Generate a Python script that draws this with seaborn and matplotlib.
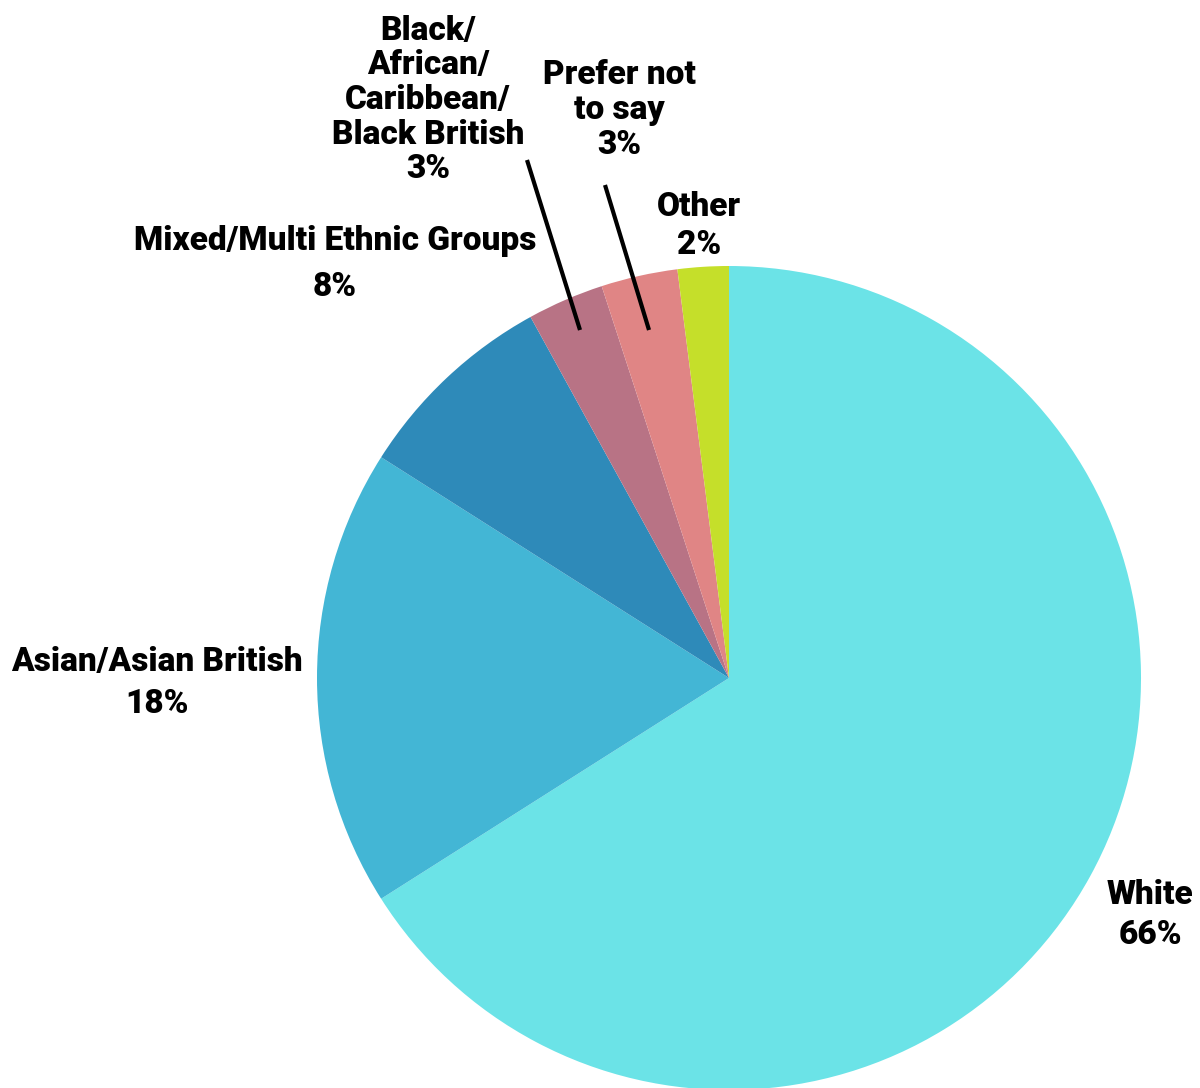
import matplotlib
matplotlib.use("Agg")
import matplotlib.pyplot as plt
import seaborn as sns

# Ethnicity breakdown (percent)
categories = ["White", "Asian/Asian British", "Mixed/Multi Ethnic Groups",
              "Black/\nAfrican/\nCaribbean/\nBlack British", "Prefer not\nto say", "Other"]
shares = [66, 18, 8, 3, 3, 2]
colors = ["#6BE3E7", "#43B6D5", "#2E8AB9", "#B87385", "#E08585", "#C5DF2A"]

sns.set_theme(style="white")
plt.rcParams["font.family"] = ["Roboto", "DejaVu Sans"]

W, H = 1200, 1088
fig = plt.figure(figsize=(W / 100, H / 100), dpi=100)
ax = fig.add_axes([0, 0, 1, 1])

cx, cy, r = 729, H - 678, 412
ax.pie(shares, colors=sns.color_palette(colors), startangle=90, counterclock=False,
       center=(cx, cy), radius=r, frame=True,
       wedgeprops=dict(linewidth=0))
ax.set_xlim(0, W)
ax.set_ylim(0, H)
ax.set_aspect("equal")
ax.axis("off")

fs = 24
txt = dict(fontsize=fs, fontweight="black", color="black", ha="center", va="center")

# label positions (x, y of text block centre) and line spacing
ax.text(1150, H - 915, f"{categories[0]}\n{shares[0]}%", linespacing=1.28, **txt)
ax.text(157, H - 683, f"{categories[1]}\n{shares[1]}%", linespacing=1.37, **txt)
ax.text(335, H - 264, f"{categories[2]}\n{shares[2]}%", linespacing=1.54, **txt)
ax.text(428, H - 100, f"{categories[3]}\n{shares[3]}%", linespacing=1.11, **txt)
ax.text(619, H - 110, f"{categories[4]}\n{shares[4]}%", linespacing=1.11, **txt)
ax.text(699, H - 226, f"{categories[5]}\n{shares[5]}%", linespacing=1.25, **txt)

# leader lines for the narrow slices
ax.plot([527, 580], [H - 160, H - 330], color="black", lw=3, solid_capstyle="butt")
ax.plot([605, 649], [H - 185, H - 330], color="black", lw=3, solid_capstyle="butt")

fig.savefig("out.png", dpi=100, facecolor="white")
